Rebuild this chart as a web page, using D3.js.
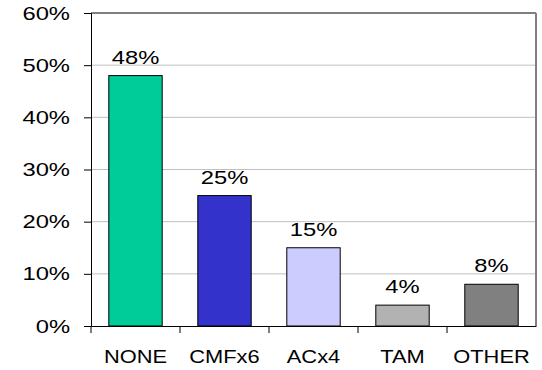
<!DOCTYPE html>
<html>
<head>
<meta charset="utf-8">
<script src="https://cdn.jsdelivr.net/npm/d3@7"></script>
<style>
	body { margin: 0; background: #fff; }
	svg text { font-family: "Liberation Sans", Arial, sans-serif; fill: #000; }
</style>
</head>
<body>
<svg id="chart"></svg>
<script>
var categories = ["NONE", "CMFx6", "ACx4", "TAM", "OTHER"];
var values = [48, 25, 15, 4, 8];
var barColors = ["#00cc99", "#3333cc", "#ccccff", "#b2b2b2", "#808080"];
var yTicks = [0, 10, 20, 30, 40, 50, 60];

var width = 542, height = 370;
var plot = { left: 91, right: 536, top: 13, bottom: 326 };	// 绘图区
var fontSize = 19;
var pctStretch = 1.25;		// 百分比文字横向拉伸
var catStretch = 1.15;		// 类别文字横向拉伸

var svg = d3.select("#chart")
	.attr("width", width)
	.attr("height", height);

var x = d3.scaleBand()
	.domain(categories)
	.range([plot.left, plot.right])
	.paddingInner(0.4)
	.paddingOuter(0.2);

var y = d3.scaleLinear()
	.domain([0, 60])
	.range([plot.bottom, plot.top]);

// stretch text horizontally around its own anchor point
function stretchText(sel, k) {
	sel.each(function() {
		var t = d3.select(this);
		var tx = +t.attr("x") || 0;
		t.attr("x", 0)
			.attr("transform", "translate(" + tx + ",0) scale(" + k + ",1)")
			.style("font-size", fontSize + "px");
	});
}

// 网格线
svg.append("g")
	.selectAll("line")
	.data(yTicks.filter(function(d) { return d > 0 && d < 60; }))
	.enter()
	.append("line")
	.attr("x1", plot.left)
	.attr("x2", plot.right)
	.attr("y1", function(d) { return y(d); })
	.attr("y2", function(d) { return y(d); })
	.attr("stroke", "#c0c0c0")
	.attr("stroke-width", 1);

// top + right border
svg.append("line")
	.attr("x1", plot.left).attr("x2", plot.right)
	.attr("y1", y(60)).attr("y2", y(60))
	.attr("stroke", "#000").attr("stroke-width", 1);
svg.append("line")
	.attr("x1", plot.right).attr("x2", plot.right)
	.attr("y1", y(60)).attr("y2", y(0))
	.attr("stroke", "#808080").attr("stroke-width", 2);

// bars
svg.append("g")
	.selectAll("rect")
	.data(categories)
	.enter()
	.append("rect")
	.attr("x", function(d) { return x(d); })
	.attr("y", function(d, i) { return y(values[i]); })
	.attr("width", x.bandwidth())
	.attr("height", function(d, i) { return y(0) - y(values[i]); })
	.attr("fill", function(d, i) { return barColors[i]; })
	.attr("stroke", "#000")
	.attr("stroke-width", 1);

// value labels
svg.append("g")
	.selectAll("g")
	.data(categories)
	.enter()
	.append("g")
	.attr("transform", function(d, i) {
		return "translate(0," + (y(values[i]) - 12) + ")";
	})
	.append("text")
	.attr("x", function(d) { return x(d) + x.bandwidth() / 2; })
	.attr("text-anchor", "middle")
	.text(function(d, i) { return values[i] + "%"; })
	.call(stretchText, pctStretch);

// y axis
var yAxis = d3.axisLeft(y)
	.tickValues(yTicks)
	.tickFormat(function(d) { return d + "%"; })
	.tickSize(7)
	.tickPadding(14);

var gy = svg.append("g")
	.attr("transform", "translate(" + plot.left + ",0)")
	.call(yAxis);
gy.attr("font-family", null).attr("font-size", null);
gy.select(".domain").attr("stroke", "#000");
gy.selectAll(".tick line").attr("stroke", "#000");
gy.selectAll(".tick text").call(stretchText, pctStretch);

// x axis
var xAxis = d3.axisBottom(x)
	.tickSize(0)
	.tickPadding(24)
	.tickSizeOuter(0);

var gx = svg.append("g")
	.attr("transform", "translate(0," + plot.bottom + ")")
	.call(xAxis);
gx.attr("font-family", null).attr("font-size", null);
gx.select(".domain").attr("stroke", "#000");
gx.selectAll(".tick text").call(stretchText, catStretch);

// category boundary ticks
gx.append("g")
	.selectAll("line")
	.data(d3.range(categories.length))
	.enter()
	.append("line")
	.attr("x1", function(d) { return plot.left + d * x.step(); })
	.attr("x2", function(d) { return plot.left + d * x.step(); })
	.attr("y1", 0)
	.attr("y2", 7)
	.attr("stroke", "#000");
</script>
</body>
</html>
